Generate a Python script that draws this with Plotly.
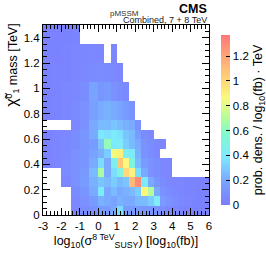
import plotly.graph_objects as go

# bin edges (log10 cross section, neutralino mass in TeV)
x_edges = [-3, -2.5, -2, -1.5, -1, -0.5, 0,
           1/3, 2/3, 1, 4/3, 5/3, 2, 7/3, 8/3, 3, 10/3, 11/3, 4,
           13/3, 14/3, 5, 16/3, 17/3, 6]
y_edges = [0, 0.075, 0.15, 0.225, 0.3, 0.375, 0.45, 0.525, 0.6, 0.675, 0.75,
           0.9, 1.05, 1.2, 1.35, 1.5]

N = None
# probability density, rows from bottom (0-0.075) to top (1.35-1.5)
row_000 = [N, N, N, 0.05, 0.08, 0.10, 0.15, 0.15, 0.20, 0.35, 0.15, 0.15, 0.15, 0.12, 0.12, 0.10, 0.08, 0.06, 0.05, 0.04, 0.04, 0.03, 0.03, 0.03]
row_075 = [N, N, N, 0.06, 0.10, 0.15, 0.22, 0.20, 0.18, 0.22, 0.20, 0.20, 0.25, 0.25, 0.30, 0.42, 0.15, 0.10, 0.08, 0.06, 0.05, 0.04, 0.03, 0.03]
row_150 = [N, N, N, 0.08, 0.12, 0.20, 0.40, 0.20, 0.25, 0.20, 0.22, 0.25, 0.30, 0.88, 0.70, 0.20, 0.10, 0.08, 0.06, 0.05, 0.04, 0.04, 0.03, 0.03]
row_225 = [N, N, 0.05, 0.10, 0.15, 0.22, 0.28, 0.25, 0.30, 0.25, 0.28, 1.12, 1.30, 0.40, 0.20, 0.12, 0.08, 0.06, 0.05, 0.05, 0.04, 0.04, 0.03, 0.03]
row_300 = [N, N, 0.07, 0.10, 0.14, 0.25, 0.68, 0.20, 0.35, 0.50, 1.00, 0.90, 0.35, 0.20, 0.10, 0.08, 0.06, 0.05, N, N, N, N, N, N]
row_375 = [0.03, 0.05, 0.07, 0.10, 0.12, 0.20, 0.35, 0.20, 0.45, 1.05, 0.88, 0.50, 0.25, 0.15, 0.10, 0.08, 0.06, 0.05, N, N, N, N, N, N]
row_450 = [0.03, 0.05, 0.06, 0.10, 0.12, 0.18, 0.22, 0.30, 0.85, 0.90, 0.45, 0.40, 0.22, 0.10, 0.08, 0.05, N, N, N, N, N, N, N, N]
row_525 = [0.03, 0.05, 0.06, 0.08, 0.12, 0.15, 0.28, 0.62, 0.40, 0.42, 0.30, 0.25, 0.20, 0.10, 0.08, 0.06, 0.05, N, N, N, N, N, N, N]
row_600 = [0.03, 0.05, 0.06, 0.08, 0.12, 0.20, 0.38, 0.36, 0.40, 0.36, 0.28, 0.25, 0.15, 0.08, 0.06, N, N, N, N, N, N, N, N, N]
row_675 = [N, N, N, 0.06, 0.10, 0.20, 0.25, 0.25, 0.28, 0.25, 0.22, 0.20, 0.10, N, N, N, N, N, N, N, N, N, N, N]
row_750 = [0.03, 0.04, 0.05, 0.07, 0.10, 0.17, 0.20, 0.22, 0.20, 0.18, 0.15, 0.10, N, N, N, N, N, N, N, N, N, N, N, N]
row_900 = [0.03, 0.04, 0.05, 0.06, 0.08, 0.18, 0.12, 0.15, 0.10, 0.08, 0.06, N, N, N, N, N, N, N, N, N, N, N, N, N]
row_1050 = [0.03, 0.04, 0.04, 0.05, 0.06, 0.07, 0.08, 0.07, 0.06, 0.05, N, N, N, N, N, N, N, N, N, N, N, N, N, N]
row_1200 = [0.03, 0.03, 0.04, 0.05, 0.05, 0.06, 0.05, N, 0.05, N, N, N, N, N, N, N, N, N, N, N, N, N, N, N]
row_1350 = [0.03, 0.03, 0.03, 0.04, N, N, N, N, N, N, N, N, N, N, N, N, N, N, N, N, N, N, N, N]

z_rows = [row_000, row_075, row_150, row_225, row_300, row_375, row_450, row_525,
          row_600, row_675, row_750, row_900, row_1050, row_1200, row_1350]

z_max = 1.37
y_ticks = [0, 0.2, 0.4, 0.6, 0.8, 1, 1.2, 1.4]
x_ticks = [-3, -2, -1, 0, 1, 2, 3, 4, 5, 6]
x_ticktext = ["-3", "-2", "-1", "0", "1", "2", "3", "4", "5", "6"]
cbar_ticks = [0, 0.2, 0.4, 0.6, 0.8, 1, 1.2]

colorscale = [
    [0.00, "rgb(124,124,255)"],
    [0.12, "rgb(120,158,255)"],
    [0.28, "rgb(125,232,255)"],
    [0.42, "rgb(130,250,205)"],
    [0.52, "rgb(185,252,150)"],
    [0.63, "rgb(250,250,125)"],
    [0.73, "rgb(255,215,120)"],
    [0.86, "rgb(255,170,120)"],
    [1.00, "rgb(255,120,120)"],
]

FONT = "Liberation Sans, Arial, Helvetica, sans-serif"
NB = "\u00a0"

fig = go.Figure(go.Heatmap(
    x=x_edges, y=y_edges, z=z_rows,
    zmin=0, zmax=z_max, colorscale=colorscale,
    hoverongaps=False,
    colorbar=dict(
        x=1.012, xanchor="left", xref="paper",
        y=0.5, yanchor="middle", len=1.0, lenmode="fraction",
        thickness=9, outlinewidth=0,
        tickvals=cbar_ticks, ticks="inside", ticklen=4, tickcolor="black",
        ticksuffix=NB * 3,
        tickfont=dict(family=FONT, size=11.5, color="black"),
        title=dict(text="prob. dens. / log<sub>10</sub>(fb) · TeV", side="right",
                   font=dict(family=FONT, size=12.5, color="black")),
    ),
))

axis_common = dict(
    showline=True, linecolor="black", linewidth=1, mirror="allticks",
    ticks="inside", ticklen=7, tickcolor="black", showgrid=False, zeroline=False,
    tickfont=dict(family=FONT, size=11.5, color="black"),
)

fig.update_xaxes(range=[-3, 6], tickvals=x_ticks, ticktext=x_ticktext,
                 minor=dict(dtick=0.2, ticks="inside", ticklen=4, tickcolor="black"),
                 title=dict(text="log<sub>10</sub>(σ<sup>8 TeV</sup><sub>SUSY</sub>) [log<sub>10</sub>(fb)]",
                            font=dict(family=FONT, size=12.5, color="black"), standoff=4),
                 **axis_common)
fig.update_yaxes(range=[0, 1.5], tickvals=y_ticks,
                 minor=dict(dtick=0.05, ticks="inside", ticklen=4, tickcolor="black"),
                 **axis_common)

fig.update_layout(
    width=266, height=255,
    margin=dict(l=43, r=57, t=25, b=40, autoexpand=False),
    paper_bgcolor="white", plot_bgcolor="white",
    font=dict(family=FONT, color="black"),
    annotations=[
        dict(text='<span style="font-size:16px">χ̃</span><sup>0</sup><sub>1</sub> mass [TeV]',
             xref="paper", yref="paper", x=-0.185, y=1.0, yshift=3,
             xanchor="center", yanchor="top", textangle=-90, showarrow=False,
             font=dict(family=FONT, size=12.5, color="black")),
        dict(text="pMSSM", xref="paper", yref="paper", x=0.491, y=1.0, yshift=5,
             xanchor="center", yanchor="bottom", showarrow=False,
             font=dict(family=FONT, size=8, color="#333333")),
        dict(text="<b>CMS</b>", xref="paper", yref="paper", x=1.0, y=1.0, yshift=7,
             xanchor="right", yanchor="bottom", showarrow=False,
             font=dict(family=FONT, size=12.5, color="black")),
        dict(text="Combined, 7 + 8 TeV", xref="paper", yref="paper", x=1.0, y=1.0, yshift=-2,
             xanchor="right", yanchor="bottom", showarrow=False,
             font=dict(family=FONT, size=9, color="#222222")),
    ],
)

fig.write_html("out.html", config={"displayModeBar": False},
               post_script="document.body.style.margin='0';")
